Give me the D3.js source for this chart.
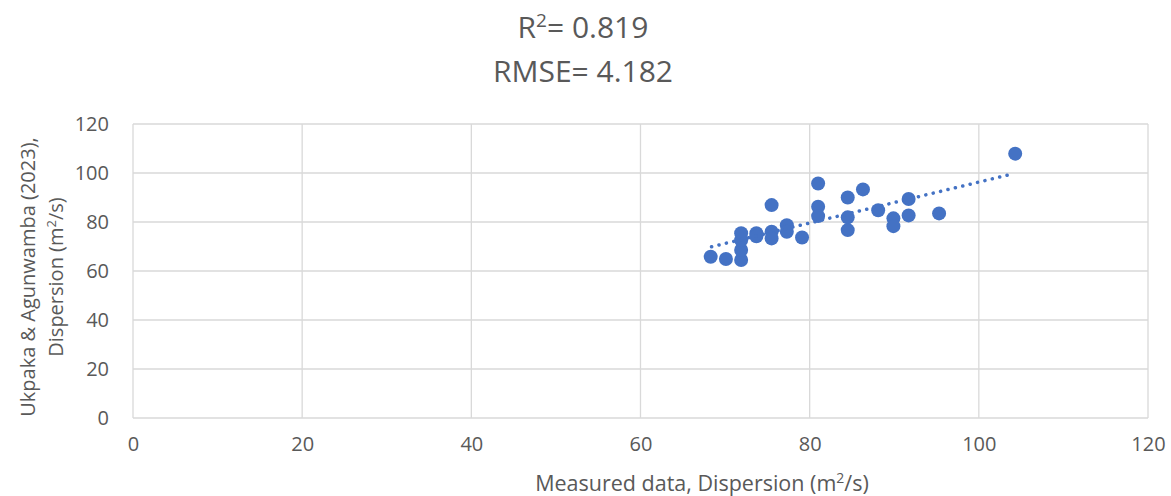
<!DOCTYPE html>
<html>
<head>
<meta charset="utf-8">
<script src="https://cdn.jsdelivr.net/npm/d3@7"></script>
<style>
  body { margin: 0; background: #fff; }
  svg text { font-family: "Open Sans", "Noto Sans", sans-serif; fill: #595959; }
</style>
</head>
<body>
<svg id="chart" width="1171" height="496"></svg>
<script>
// measured vs predicted dispersion (m2/s)
var measured = [68.3, 70.1, 71.9, 71.9, 71.9, 71.9, 73.7, 73.7, 75.5, 75.5, 75.5,
                77.3, 77.3, 79.1, 81.0, 81.0, 81.0, 84.5, 84.5, 84.5, 86.3,
                88.1, 89.9, 89.9, 91.7, 91.7, 95.3, 104.3];
var predicted = [65.8, 64.9, 64.5, 68.6, 72.6, 75.4, 75.4, 74.2, 86.9, 76.0, 73.3,
                 78.7, 76.0, 73.7, 95.7, 86.2, 82.4, 90.0, 81.9, 76.7, 93.3,
                 84.8, 81.5, 78.3, 89.4, 82.7, 83.5, 107.9];
// linear trendline ends
var trendX = [68.4, 104.2];
var trendY = [69.9, 99.8];

var xTicks = [0, 20, 40, 60, 80, 100, 120];
var yTicks = [0, 20, 40, 60, 80, 100, 120];

var r2Text = "0.819";
var rmseText = "4.182";

var svg = d3.select("#chart");

var margins = { top: 124, bottom: 78, left: 133, right: 23 };
var width = 1171, height = 496;

var x = d3.scaleLinear().domain([0, 120]).range([margins.left, width - margins.right]);
var y = d3.scaleLinear().domain([0, 120]).range([height - margins.bottom, margins.top]);

// gridlines
svg.append("g").selectAll("line.h")
  .data(yTicks).enter().append("line")
  .attr("x1", x(0)).attr("x2", x(120))
  .attr("y1", function(d) { return y(d); }).attr("y2", function(d) { return y(d); })
  .attr("stroke", "#d9d9d9").attr("stroke-width", 1.3);

svg.append("g").selectAll("line.v")
  .data(xTicks).enter().append("line")
  .attr("y1", y(0)).attr("y2", y(120))
  .attr("x1", function(d) { return x(d); }).attr("x2", function(d) { return x(d); })
  .attr("stroke", "#d9d9d9").attr("stroke-width", 1.3);

// axes (labels only)
var xAxis = d3.axisBottom(x).tickValues(xTicks).tickSize(0).tickPadding(19);
var yAxis = d3.axisLeft(y).tickValues(yTicks).tickSize(0).tickPadding(24);

var gx = svg.append("g").attr("transform", "translate(0," + y(0) + ")").call(xAxis);
var gy = svg.append("g").attr("transform", "translate(" + x(0) + ",0)").call(yAxis);
[gx, gy].forEach(function(g) {
  g.select(".domain").remove();
  g.selectAll("text").style("font-size", "20px").attr("fill", "#595959")
    .style("font-family", "'Open Sans', sans-serif");
});

// points
svg.append("g").selectAll("circle")
  .data(measured).enter().append("circle")
  .attr("cx", function(d) { return x(d); })
  .attr("cy", function(d, i) { return y(predicted[i]); })
  .attr("r", 7)
  .attr("fill", "#4472c4");

// trendline
svg.append("line")
  .attr("x1", x(trendX[0])).attr("y1", y(trendY[0]))
  .attr("x2", x(trendX[1])).attr("y2", y(trendY[1]))
  .attr("stroke", "#4472c4").attr("stroke-width", 3.5)
  .attr("stroke-linecap", "round")
  .attr("stroke-dasharray", "0.1 7.5");

// title
var title = svg.append("text").attr("text-anchor", "middle").style("font-size", "30px");
title.append("tspan").attr("x", 583).attr("y", 38).text("R");
title.append("tspan").attr("dy", -11).style("font-size", "19px").text("2");
title.append("tspan").attr("dy", 11).text("= " + r2Text);

svg.append("text").attr("text-anchor", "middle").attr("x", 583).attr("y", 82)
  .style("font-size", "30px").text("RMSE= " + rmseText);

// x axis title
var xt = svg.append("text").attr("text-anchor", "middle")
  .attr("x", 702).attr("y", 491).style("font-size", "21.5px");
xt.append("tspan").text("Measured data, Dispersion (m");
xt.append("tspan").attr("dy", -8).style("font-size", "14px").text("2");
xt.append("tspan").attr("dy", 8).text("/s)");

// y axis title, two lines
var yt = svg.append("g").attr("transform", "translate(35,277) rotate(-90)");
yt.append("text").attr("text-anchor", "middle").attr("x", 0).attr("y", 0)
  .style("font-size", "20px").text("Ukpaka & Agunwamba (2023),");
var yt2 = yt.append("text").attr("text-anchor", "middle").attr("x", 0).attr("y", 28)
  .style("font-size", "20px");
yt2.append("tspan").text("Dispersion (m");
yt2.append("tspan").attr("dy", -7).style("font-size", "13px").text("2");
yt2.append("tspan").attr("dy", 7).text("/s)");
</script>
</body>
</html>
